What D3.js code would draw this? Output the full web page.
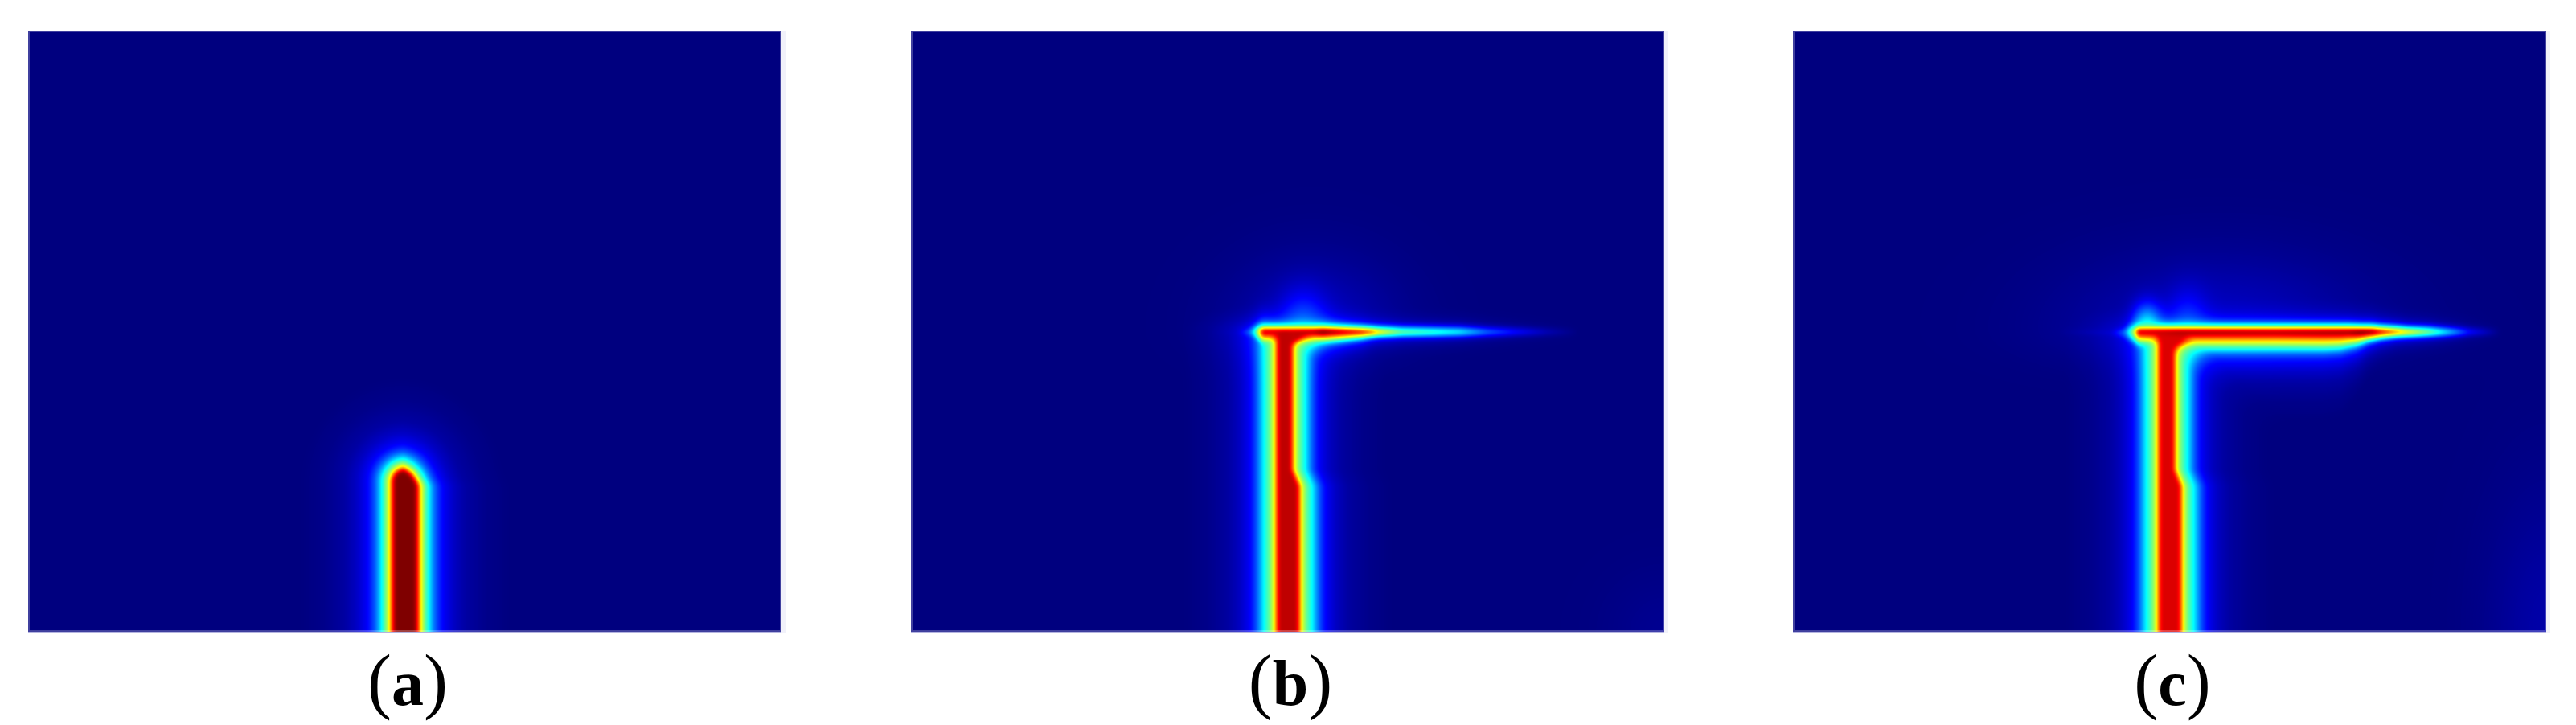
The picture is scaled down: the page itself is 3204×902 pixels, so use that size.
<!DOCTYPE html>
<html>
<head>
<meta charset="utf-8">
<script src="https://cdn.jsdelivr.net/npm/d3@7"></script>
<style>
  html, body { margin: 0; background: #fff; }
  #wrap { position: relative; width: 3204px; height: 902px; overflow: hidden; }
  canvas, svg { position: absolute; left: 0; top: 0; }
</style>
</head>
<body>
<div id="wrap"></div>
<script>
const panelLabels = ["a", "b", "c"];
const jetStops = [0, 0.11, 0.35, 0.5, 0.65, 0.89, 1];
const jetColors = ["#00007f", "#0000ff", "#00ffff", "#7dff7a", "#ffff00", "#ff0000", "#7f0000"];

// falloff across the crack, one distance list per panel
const profileVal = [1, 1, 0.89, 0.78, 0.65, 0.5, 0.35, 0.2, 0.11, 0.06, 0.03, 0.01, 0];
const profileDist = [
  [0, 12, 15.5, 17.5, 19.5, 24, 29, 37, 46, 60, 75, 100, 130],
  [0, 11, 13.5, 15.5, 17.5, 23, 31, 39, 47, 60, 75, 100, 130],
  [0, 11, 13.5, 15.5, 17.5, 23, 31, 39, 47, 60, 75, 100, 130]
];
// broad lower shoulder of the branch, px below the line for the same values
const lowerPx = [0, 3, 5.7, 9, 13.3, 17, 21.7, 27, 35, 48, 62, 85, 110];

const stemCenter = [468.5, 468.5, 468.5];
const stemTop = [561, 375, 375];
const stemCap = [1, 3.5, 3.5];
const stemPeak = [1, 0.945, 0.92];
const kinkY = [[540, 555, 566, 748], [375, 546, 566, 748], [375, 546, 566, 748]];
const kinkShift = [[8, 5, 0, 0], [8.5, 8.5, 0, 0], [8, 8, 0, 0]];

const branchY = [null, 375, 375];
const branchX = [
  [],
  [360, 405, 420, 427, 432, 437, 500, 512, 560, 573, 583, 610, 650, 682, 715, 752, 790, 830],
  [330, 395, 412, 418, 425, 429, 480, 600, 690, 707, 720, 730, 750, 764, 790, 807, 841, 880]
];
const branchPeak = [
  [],
  [0, 0.05, 0.18, 0.35, 0.62, 0.92, 0.95, 1, 0.88, 0.8, 0.67, 0.48, 0.41, 0.35, 0.21, 0.12, 0.05, 0],
  [0, 0.05, 0.18, 0.35, 0.62, 0.92, 0.95, 0.94, 0.96, 1, 0.98, 0.9, 0.76, 0.66, 0.5, 0.37, 0.12, 0]
];
const branchUp = [
  [],
  [0.1, 0.12, 0.2, 0.3, 0.32, 0.32, 0.32, 0.32, 0.26, 0.24, 0.24, 0.24, 0.24, 0.24, 0.22, 0.2, 0.18, 0.14],
  [0.1, 0.12, 0.2, 0.3, 0.32, 0.32, 0.32, 0.32, 0.32, 0.3, 0.3, 0.28, 0.26, 0.24, 0.24, 0.22, 0.2, 0.14]
];
const branchDownX = [
  [],
  [360, 400, 420, 428, 433, 437, 500, 512, 560, 573, 583, 650, 715, 752, 830],
  [340, 380, 400, 416, 422, 428, 480, 660, 680, 700, 715, 730, 750, 790, 841, 880]
];
const branchDown = [
  [],
  [0.1, 0.15, 0.3, 0.5, 0.6, 0.7, 0.65, 0.6, 0.38, 0.3, 0.28, 0.28, 0.25, 0.22, 0.17],
  [0.1, 0.15, 0.3, 0.5, 0.6, 0.7, 1, 1, 0.95, 0.75, 0.5, 0.38, 0.3, 0.27, 0.22, 0.17]
];

// soft blue lobes: centre x, centre y, radius x, radius y, value
const lobes = [
  [],
  [[487, 364, 28, 40, 0.12], [437, 370, 14, 22, 0.05], [500, 370, 95, 80, 0.06], [937, 748, 70, 70, 0.015]],
  [[440, 366, 17, 26, 0.26], [490, 362, 24, 40, 0.09], [530, 370, 170, 85, 0.06], [937, 748, 70, 170, 0.035]]
];

const W = 3204, H = 902;
const panelX = [35, 1133, 2230];
const panelTop = 38, panelW = 937, panelH = 748;
const labelY = 877, labelX = [507, 1605, 2702];

const wrap = d3.select("#wrap");
const canvas = wrap.append("canvas").attr("width", W).attr("height", H);
const ctx = canvas.node().getContext("2d");
const svg = wrap.append("svg").attr("width", W).attr("height", H);

const jet = d3.scaleLinear().domain(jetStops).range(jetColors).clamp(true);
const lut = d3.range(1025).map(i => d3.rgb(jet(i / 1024)));

const smin = (a, b, k) => {
  const h = Math.max(k - Math.abs(a - b), 0) / k;
  return Math.min(a, b) - h * h * k / 4;
};

panelLabels.forEach((label, p) => {
  const x = d3.scaleLinear().domain([0, panelW]).range([panelX[p], panelX[p] + panelW]);
  const y = d3.scaleLinear().domain([0, panelH]).range([panelTop, panelTop + panelH]);
  const profile = d3.scaleLinear().domain(profileDist[p]).range(profileVal).clamp(true);
  const lowerScale = d3.scaleLinear().domain(lowerPx).range(profileDist[p]);
  const shift = d3.scaleLinear().domain(kinkY[p]).range(kinkShift[p]).clamp(true);
  const hasBranch = branchX[p].length > 0;
  const peakAt = d3.scaleLinear().domain(branchX[p]).range(branchPeak[p]).clamp(true);
  const upAt = d3.scaleLinear().domain(branchX[p]).range(branchUp[p]).clamp(true);
  const downAt = d3.scaleLinear().domain(branchDownX[p]).range(branchDown[p]).clamp(true);

  const cols = d3.range(panelW).map(i => {
    const ux = x.invert(panelX[p] + i);
    return hasBranch ? { ux, pk: peakAt(ux), up: upAt(ux), down: downAt(ux) } : { ux };
  });
  const field = new Float32Array(panelW * panelH);

  for (let j = 0; j < panelH; j++) {
    const uy = y.invert(panelTop + j);
    const sh = shift(uy);
    for (let i = 0; i < panelW; i++) {
      const c = cols[i];
      const signedX = c.ux - stemCenter[p];
      const dx = signedX < 0 ? -signedX : Math.max(0, signedX + sh);
      const dyTop = Math.max(0, (stemTop[p] - uy) * stemCap[p]);
      const dS = Math.hypot(dx, dyTop);
      let v = stemPeak[p] * profile(dS);
      if (hasBranch) {
        const dy = uy - branchY[p];
        const dB = dy < 0 ? -dy / c.up : lowerScale(dy / c.down);
        v = Math.max(v, c.pk * profile(dB));
        if (dy > 0) {
          // rounded inner corner right of the stem, slight one at the left tip
          const k = signedX > 0 ? 30 : 10;
          v = Math.max(v, Math.min(stemPeak[p], c.pk) * profile(smin(dS, dB, k)));
        }
      }
      // lobes only lift the blue part of the field, not the core
      let glow = 0;
      for (const [cx, cy, rx, ry, val] of lobes[p]) {
        const rr = uy > cy && cy < 400 ? ry * 0.5 : ry;
        const e = ((c.ux - cx) / rx) ** 2 + ((uy - cy) / rr) ** 2;
        if (e < 9) glow += val * Math.exp(-e);
      }
      field[j * panelW + i] = v + glow * Math.max(0, 1 - v * 2);
    }
  }

  // the source is a low-res bitmap blown up, so take the corners off
  d3.blur2({ data: field, width: panelW, height: panelH }, 2);

  const img = ctx.createImageData(panelW, panelH);
  field.forEach((v, n) => {
    const col = lut[Math.round(Math.min(1, v) * 1024)];
    img.data[n * 4] = col.r;
    img.data[n * 4 + 1] = col.g;
    img.data[n * 4 + 2] = col.b;
    img.data[n * 4 + 3] = 255;
  });
  ctx.putImageData(img, panelX[p], panelTop);

  const g = svg.append("g");
  g.append("rect")
    .attr("x", x(panelW)).attr("y", panelTop)
    .attr("width", 5).attr("height", panelH + 2)
    .attr("fill", "#f1f1fa");
  g.append("rect")
    .attr("x", panelX[p] + 1).attr("y", panelTop + 1)
    .attr("width", panelW - 2).attr("height", panelH - 2)
    .attr("fill", "none").attr("stroke", "#fff")
    .attr("stroke-opacity", 0.25).attr("stroke-width", 2);
  g.append("rect")
    .attr("x", panelX[p]).attr("y", y(panelH))
    .attr("width", panelW).attr("height", 2)
    .attr("fill", "#b4b4e0");

  const t = g.append("text")
    .attr("x", labelX[p]).attr("y", labelY)
    .attr("text-anchor", "middle")
    .style("font-family", "'Liberation Serif', serif")
    .attr("fill", "#000");
  t.append("tspan").style("font-size", "90px").text("(");
  t.append("tspan").style("font-size", "80px").style("font-weight", 700).text(label);
  t.append("tspan").style("font-size", "90px").text(")");
});
</script>
</body>
</html>
